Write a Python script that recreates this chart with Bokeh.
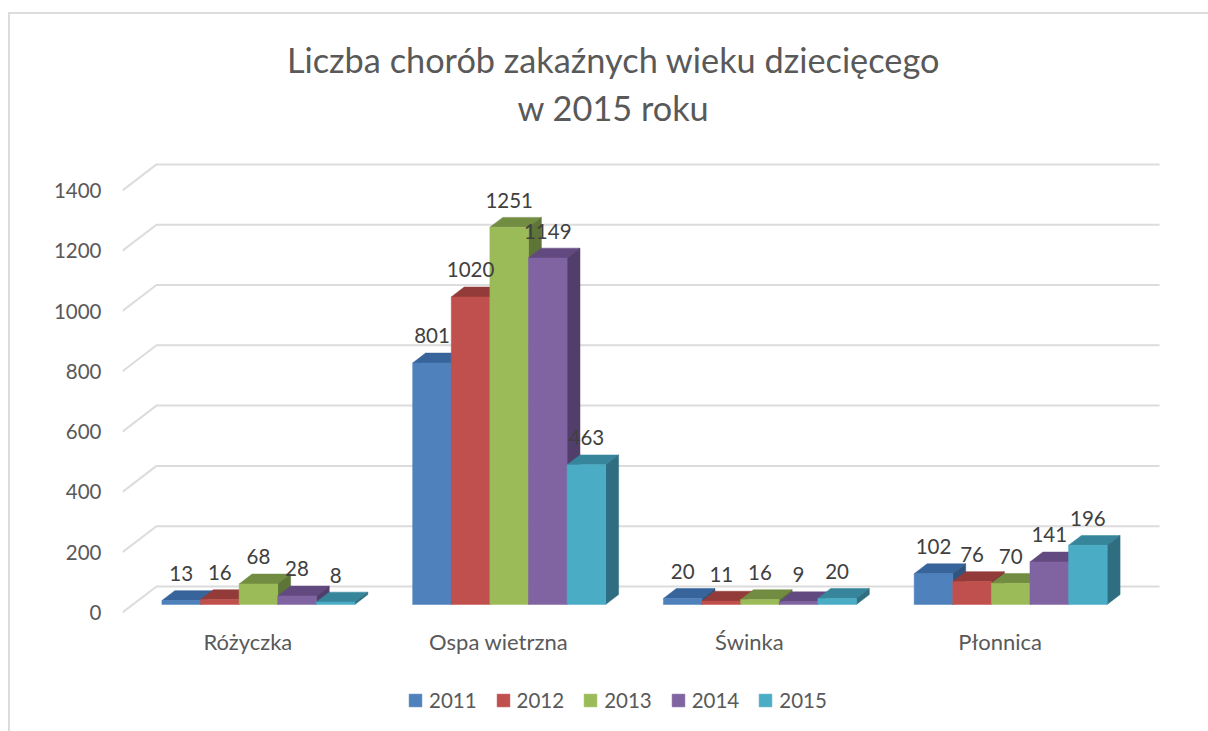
from bokeh.embed import file_html
from bokeh.resources import INLINE
from bokeh.plotting import figure
from bokeh.models import FixedTicker, Label, Legend, LegendItem, Range1d, ColumnDataSource

categories = ["Różyczka", "Ospa wietrzna", "Świnka", "Płonnica"]
years = ["2011", "2012", "2013", "2014", "2015"]
v2011 = [13, 801, 20, 102]
v2012 = [16, 1020, 11, 76]
v2013 = [68, 1251, 16, 70]
v2014 = [28, 1149, 9, 141]
v2015 = [8, 463, 20, 196]
series = [v2011, v2012, v2013, v2014, v2015]
front = ["#4F81BD", "#C0504D", "#9BBB59", "#8064A2", "#4BACC6"]
top = ["#37649A", "#933B39", "#728C42", "#624A80", "#37859B"]
side = ["#2F5480", "#7A302E", "#5F7537", "#523E6B", "#2E6E80"]
y_ticks = [0, 200, 400, 600, 800, 1000, 1200, 1400]
title_lines = ["Liczba chorób zakaźnych wieku dziecięcego", "w 2015 roku"]

PX_CAT = 250.75          # px per category
PX_VAL = 0.3015          # px per value unit
DEPTH_X = 34 / PX_CAT    # full floor depth, data units
DEPTH_Y = 26 / PX_VAL
Z0, Z1 = 0.31, 0.69      # bar position in depth
BAR_W = 38.6 / PX_CAT
GROUP_W = BAR_W * len(years)

FONT = "Lato"
GREY = "#595959"

FIG_L, FIG_T = 8, 12
FRAME_L, FRAME_R = 120, 1208
FRAME_T, FRAME_B = 12, 731
ZERO_Y = 610

p = figure(
    width=1208 - FIG_L, height=731 - FIG_T, output_backend="svg", toolbar_location=None,
    x_range=Range1d(0, (FRAME_R - FRAME_L) / PX_CAT),
    y_range=Range1d((ZERO_Y - FRAME_B) / PX_VAL, (ZERO_Y - FRAME_T) / PX_VAL),
    min_border_left=FRAME_L - FIG_L, min_border_right=0,
    min_border_top=0, min_border_bottom=0,
    margin=(FIG_T, 0, 0, FIG_L),
)
p.styles = {"border-top": "2px solid #DCDCDC", "border-left": "2px solid #DCDCDC", "box-sizing": "border-box"}
p.outline_line_color = None
p.xgrid.visible = False
p.ygrid.visible = False
p.background_fill_color = "white"
p.border_fill_color = "white"

p.xaxis.ticker = FixedTicker(ticks=[i + 0.5 for i in range(len(categories))])
p.xaxis.major_label_overrides = {i + 0.5: c for i, c in enumerate(categories)}
p.xaxis.fixed_location = 0
p.yaxis.ticker = FixedTicker(ticks=y_ticks)
for ax in (p.xaxis[0], p.yaxis[0]):
    ax.axis_line_color = None
    ax.major_tick_line_color = None
    ax.minor_tick_line_color = None
    ax.major_label_text_font = FONT
    ax.major_label_text_color = GREY
    ax.major_label_text_font_size = "20.5px"
p.xaxis[0].major_label_text_font_size = "22px"
p.xaxis[0].major_label_standoff = 9
p.yaxis[0].major_label_standoff = 15

# wall grid lines with their slanted floor-side stubs
p.multi_line(
    xs=[[0, DEPTH_X, len(categories) + DEPTH_X] for _ in y_ticks],
    ys=[[v, v + DEPTH_Y, v + DEPTH_Y] for v in y_ticks],
    line_color="#DCDCDC", line_width=2,
)

items = []
for i, (vals, year) in enumerate(zip(series, years)):
    x0 = [g + (1 - GROUP_W) / 2 + i * BAR_W + Z0 * DEPTH_X for g in range(len(categories))]
    x1 = [x + BAR_W for x in x0]
    dx, dy = (Z1 - Z0) * DEPTH_X, (Z1 - Z0) * DEPTH_Y
    base = Z0 * DEPTH_Y
    p.patches(
        xs=[[a, a + dx, b + dx, b] for a, b in zip(x0, x1)],
        ys=[[base + v, base + v + dy, base + v + dy, base + v] for v in vals],
        fill_color=top[i], line_color=top[i], line_width=0.5,
    )
    p.patches(
        xs=[[b, b + dx, b + dx, b] for b in x1],
        ys=[[base, base + dy, base + v + dy, base + v] for v in vals],
        fill_color=side[i], line_color=side[i], line_width=0.5,
    )
    r = p.quad(
        left=x0, right=x1, bottom=[base] * len(vals), top=[base + v for v in vals],
        fill_color=front[i], line_color=front[i], line_width=0.5,
    )
    items.append(LegendItem(label=year, renderers=[r]))

for i, (vals, year) in enumerate(zip(series, years)):
    src = ColumnDataSource(dict(
        x=[g + (1 - GROUP_W) / 2 + (i + 0.5) * BAR_W + Z0 * DEPTH_X for g in range(len(categories))],
        y=[Z0 * DEPTH_Y + v for v in vals],
        t=[str(v) for v in vals],
    ))
    p.text("x", "y", text="t", source=src, y_offset=-27, text_align="center", text_baseline="middle",
           text_color="#404040", text_font_size="20.5px", text_font={"value": FONT})

legend = Legend(
    items=items, orientation="horizontal", location=(410 - FRAME_L - 5, 21),
    border_line_color=None, background_fill_alpha=0,
    glyph_width=16, glyph_height=16, label_standoff=6, spacing=18,
    label_text_font=FONT, label_text_color=GREY, label_text_font_size="20.5px",
    padding=4, margin=0,
)
p.add_layout(legend, "center")

for line, cy in zip(title_lines, (57, 105)):
    p.add_layout(Label(
        x=(611 - FRAME_L) / PX_CAT, y=(ZERO_Y - cy) / PX_VAL, text=line,
        text_align="center", text_baseline="middle", text_font=FONT,
        text_font_size="34.3px", text_color=GREY,
    ))

open("out.html", "w").write(file_html(p, INLINE))
